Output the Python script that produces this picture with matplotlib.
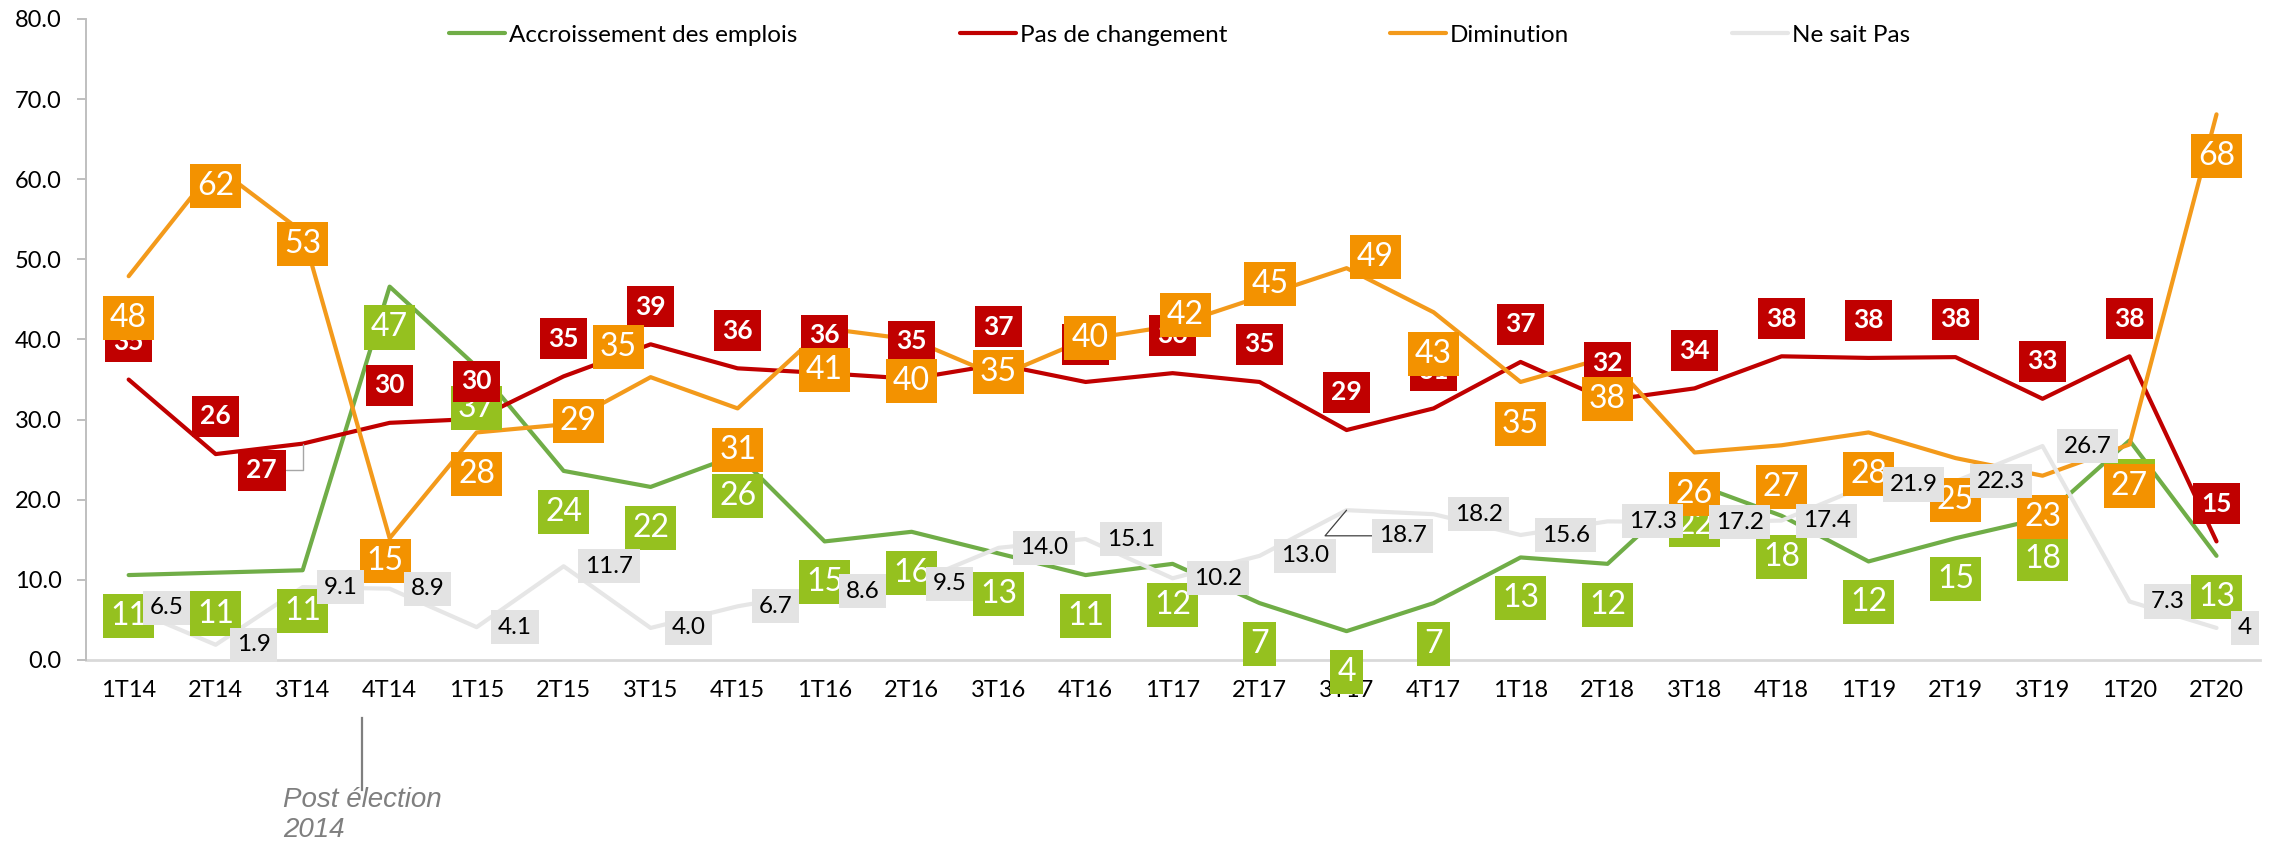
import matplotlib
matplotlib.use('Agg')
import matplotlib.pyplot as plt

plt.rcParams['font.family'] = ['Lato', 'DejaVu Sans']

# data
quarters = ['1T14', '2T14', '3T14', '4T14', '1T15', '2T15', '3T15', '4T15',
            '1T16', '2T16', '3T16', '4T16', '1T17', '2T17', '3T17', '4T17',
            '1T18', '2T18', '3T18', '4T18', '1T19', '2T19', '3T19', '1T20', '2T20']

accroissement = [10.6, 10.9, 11.2, 46.6, 36.6, 23.6, 21.6, 25.6, 14.8, 16.0, 13.3, 10.6,
                 12.0, 7.1, 3.6, 7.1, 12.8, 12.0, 22.0, 18.0, 12.3, 15.2, 17.7, 27.4, 13.0]
pas_changement = [35.0, 25.7, 27.0, 29.6, 30.1, 35.4, 39.4, 36.4, 35.8, 35.1, 36.9, 34.7,
                  35.8, 34.7, 28.7, 31.4, 37.2, 32.4, 33.9, 37.9, 37.7, 37.8, 32.6, 37.9, 14.8]
diminution = [47.9, 61.6, 53.4, 15.2, 28.4, 29.4, 35.3, 31.4, 41.4, 40.0, 35.4, 40.0,
              41.7, 45.3, 48.9, 43.4, 34.7, 37.8, 25.9, 26.8, 28.4, 25.2, 23.0, 26.9, 68.1]
ne_sait_pas = [6.5, 1.9, 9.1, 8.9, 4.1, 11.7, 4.0, 6.7, 8.6, 9.5, 14.0, 15.1, 10.2,
               13.0, 18.7, 18.2, 15.6, 17.3, 17.2, 17.4, 21.9, 22.3, 26.7, 7.3, 4.0]

x = list(range(len(quarters)))

fig = plt.figure(figsize=(22.7, 8.48), dpi=100)
ax = fig.add_axes([0.0379, 0.2217, 0.9577, 0.7559])

series = [
    ('Accroissement des emplois', accroissement, '#70AD47'),
    ('Pas de changement', pas_changement, '#C00000'),
    ('Diminution', diminution, '#F39A1B'),
    ('Ne sait Pas', ne_sait_pas, '#E6E6E6'),
]
for k, (name, vals, col) in enumerate(series):
    ax.plot(x, vals, color=col, lw=3.0, zorder=2 + k * 0.1, label=name,
            solid_capstyle='round')

# label placement (offsets in category / value units)
# green: below the point
for i, v in enumerate(accroissement):
    ax.annotate(f'{round(v)}', xy=(i, v), xytext=(i, v - 5.1), textcoords='data',
                ha='center', va='center', fontsize=23, color='white', zorder=5,
                bbox=dict(boxstyle='square,pad=0.22', fc='#95C11F', ec='none'))

# red: above the point
red_moves = {2: (-0.47, -3.3)}
for i, v in enumerate(pas_changement):
    dx, dy = red_moves.get(i, (0, 4.7))
    kw = {}
    if i in red_moves:
        kw['arrowprops'] = dict(arrowstyle='-', color='#A6A6A6', lw=1,
                                connectionstyle='angle,angleA=0,angleB=90,rad=0',
                                shrinkA=0, shrinkB=0)
    ax.annotate(f'{round(v)}', xy=(i, v), xytext=(i + dx, v + dy), textcoords='data',
                ha='center', va='center', fontsize=19, fontweight='bold', color='white',
                zorder=6, bbox=dict(boxstyle='square,pad=0.32', fc='#C00000', ec='none'),
                **kw)

# orange: mostly below, some moved by hand
orange_moves = {1: (0, -2.4), 2: (0, -1.5), 3: (-0.05, -2.8), 5: (0.17, 0.4),
                6: (-0.37, 3.8), 10: (0, 0.5), 11: (0.05, 0.2), 12: (0.15, 1.3),
                13: (0.12, 1.6), 14: (0.33, 1.4)}
for i, v in enumerate(diminution):
    dx, dy = orange_moves.get(i, (0, -5.2))
    ax.annotate(f'{round(v)}', xy=(i, v), xytext=(i + dx, v + dy), textcoords='data',
                ha='center', va='center', fontsize=23, color='white', zorder=7,
                bbox=dict(boxstyle='square,pad=0.22', fc='#F39200', ec='none'))

# grey: to the right
gray_labels = [f'{v:.1f}' for v in ne_sait_pas]
gray_labels[-1] = '4'
gray_moves = {14: (0.37, -3.2)}
for i, v in enumerate(ne_sait_pas):
    dx, dy = gray_moves.get(i, (0.245, 0))
    kw = {}
    if i in gray_moves:
        kw['arrowprops'] = dict(arrowstyle='-', color='#404040', lw=0.9,
                                connectionstyle='angle,angleA=0,angleB=50,rad=0',
                                shrinkA=0, shrinkB=0)
    ax.annotate(gray_labels[i], xy=(i, v), xytext=(i + dx, v + dy), textcoords='data',
                ha='left', va='center', fontsize=17.5, color='black', zorder=8,
                bbox=dict(boxstyle='square,pad=0.27', fc='#E3E3E3', ec='none'), **kw)

# axes
ax.set_xlim(-0.49, 24.5)
ax.set_ylim(0, 80)
ax.set_yticks(range(0, 81, 10))
ax.set_yticklabels([f'{t:.1f}' for t in range(0, 81, 10)])
ax.set_xticks(x)
ax.set_xticklabels(quarters)
ax.tick_params(axis='x', length=0, pad=14.5, labelsize=17)
ax.tick_params(axis='y', length=6.5, width=1.4, color='#BFBFBF', labelsize=17, pad=11)
for s in ['top', 'right']:
    ax.spines[s].set_visible(False)
ax.spines['left'].set_color('#BFBFBF')
ax.spines['left'].set_linewidth(1.4)
ax.spines['bottom'].set_color('#D9D9D9')
ax.spines['bottom'].set_linewidth(2)
ax.spines['bottom'].set_zorder(1)

ax.legend(loc='center', bbox_to_anchor=(0.503, 0.975), ncol=4, frameon=False,
          fontsize=17.5, handlelength=2.3, handletextpad=0.17, columnspacing=6.7,
          borderpad=0, borderaxespad=0)

# annotation under 4T14
ax.plot([2.684, 2.684], [-0.0905, -0.2028], transform=ax.get_xaxis_transform(),
        clip_on=False, color='#7F7F7F', lw=1.6)
ax.text(1.776, -0.198, 'Post élection\n2014', transform=ax.get_xaxis_transform(),
        ha='left', va='top', fontsize=20, style='italic', color='#7F7F7F',
        family=['Liberation Sans', 'DejaVu Sans'], linespacing=1.2)

fig.savefig('out.png', dpi=100)
